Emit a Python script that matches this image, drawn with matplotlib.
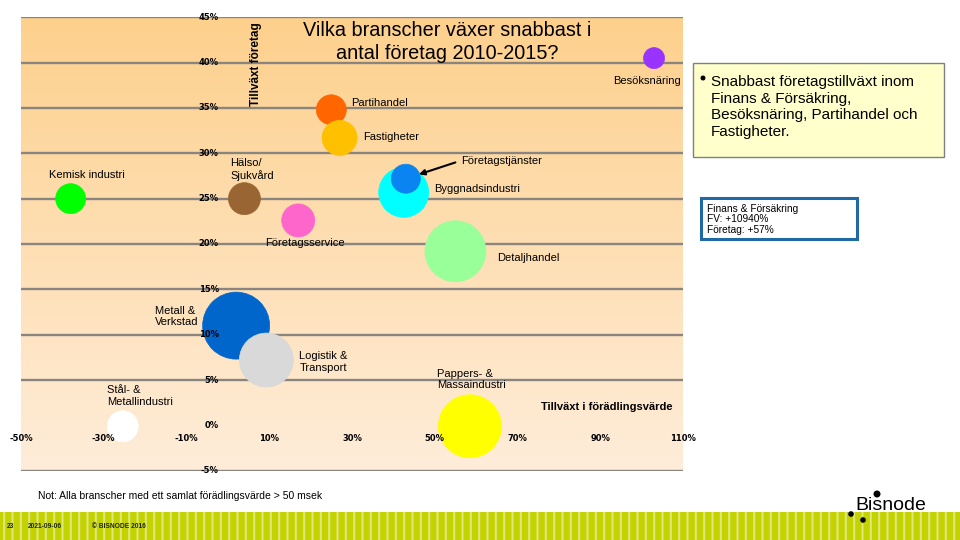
import matplotlib
matplotlib.use("Agg")
import matplotlib.pyplot as plt
from matplotlib.patches import Rectangle, Ellipse
from matplotlib.colors import LinearSegmentedColormap
import numpy as np

plt.rcParams['font.family'] = ['Liberation Sans', 'DejaVu Sans']

# Branscher: tillväxt i förädlingsvärde (x) och tillväxt i antal företag (y), procent
branscher = ["Kemisk industri", "Hälso/\nSjukvård", "Företagsservice", "Partihandel",
             "Fastigheter", "Byggnadsindustri", "Företagstjänster", "Besöksnäring",
             "Detaljhandel", "Metall &\nVerkstad", "Logistik &\nTransport",
             "Stål- &\nMetallindustri", "Pappers- &\nMassaindustri"]
tillvaxt_fv = [-38, 4, 17, 25, 27, 42.5, 43, 103, 55, 2, 9.3, -25.4, 58.5]
tillvaxt_foretag = [25, 25, 22.6, 34.8, 31.7, 25.7, 27.2, 40.5, 19.2, 11, 7.2, -0.1, -0.1]
storlek = [15, 16, 16.5, 15, 17.5, 25, 14.5, 10.5, 30.5, 33.5, 27, 15.5, 31.5]
farger = ["#00FF00", "#996633", "#FF66CC", "#FF6600", "#FFC000", "#00FFFF", "#0A84F0",
          "#9933FF", "#99FF99", "#0066CC", "#D9D9D9", "#FFFFFF", "#FFFF00"]

xticks = [-50, -30, -10, 10, 30, 50, 70, 90, 110]
yticks = [-5, 0, 5, 10, 15, 20, 25, 30, 35, 40, 45]

# label offsets in points (dx, dy) and alignment
etikett_pos = [((11.5, 17.3), "center"), ((-10, 21), "left"), ((-23.8, -16.6), "left"),
               ((14.4, 5), "left"), ((16.6, 0.7), "left"), ((21.6, 2.2), "left"),
               ((39.6, 13), "left"), ((-5, -16.6), "center"), ((30.2, -5), "left"),
               ((-58.3, 6.5), "left"), ((23.8, -1.4), "left"), ((-11.5, 21.6), "left"),
               ((-23.8, 33.8), "left")]

W, H = 960, 540


def fx(x):
    return x / W


def fy(y):
    return 1 - y / H


fig = plt.figure(figsize=(9.6, 5.4), dpi=100)
ax = fig.add_axes([fx(21), fy(470.7), 662 / W, (470.7 - 17.3) / H])
ax.set_xlim(-50, 110)
ax.set_ylim(-5, 45)
for s in ax.spines.values():
    s.set_visible(False)
ax.set_xticks([])
ax.set_yticks([])

# background gradient
cmap = LinearSegmentedColormap.from_list("bg", ["#FFEDDA", "#FDD08C"])
grad = np.linspace(0, 1, 256).reshape(-1, 1)
ax.imshow(grad, extent=[-50, 110, -5, 45], origin="lower", aspect="auto",
          cmap=cmap, zorder=0)

for yv in yticks:
    if yv != 0:
        ax.axhline(yv, color="#8A857F", lw=1.7, zorder=1)
    ax.text(-2.2, yv, f"{yv}%", ha="right", va="center", fontsize=6,
            fontweight="bold", family="DejaVu Sans", zorder=4)
for xv in xticks:
    ax.text(xv, -1.4, f"{xv}%", ha="center", va="center", fontsize=6,
            fontweight="bold", family="DejaVu Sans", zorder=4, clip_on=False)

sizes = [(2 * r * 0.72) ** 2 for r in storlek]
ax.scatter(tillvaxt_fv, tillvaxt_foretag, s=sizes, c=farger, edgecolors=farger,
           linewidths=0.5, zorder=3, clip_on=False)

for namn, x, y, ((dx, dy), ha) in zip(branscher, tillvaxt_fv, tillvaxt_foretag, etikett_pos):
    if namn == "Företagstjänster":
        ax.annotate(namn, xy=(x, y), xytext=(dx, dy), textcoords="offset points",
                    ha=ha, va="center", fontsize=8, zorder=5,
                    arrowprops=dict(arrowstyle="-|>", color="black", lw=1.5,
                                    shrinkA=2, shrinkB=10, relpos=(0, 0.5),
                                    mutation_scale=8))
    else:
        ax.annotate(namn, xy=(x, y), xytext=(dx, dy), textcoords="offset points",
                    ha=ha, va="center", fontsize=8, zorder=5, linespacing=1.2)

# titles and axis names
fig.text(fx(447), fy(42), "Vilka branscher växer snabbast i\nantal företag 2010-2015?",
         ha="center", va="center", multialignment="center", fontsize=14.3,
         linespacing=1.26)
fig.text(fx(256), fy(64), "Tillväxt företag", rotation=90, ha="center", va="center",
         fontsize=8.5, fontweight="bold")
fig.text(fx(607), fy(407), "Tillväxt i förädlingsvärde", ha="center", va="center",
         fontsize=8, fontweight="bold")

# right comment box
fig.patches.append(Rectangle((fx(693), fy(157)), 251 / W, 94 / H, transform=fig.transFigure,
                             facecolor="#FFFFCC", edgecolor="#808080", lw=1))
fig.patches.append(Ellipse((fx(703), fy(78)), 5 / W, 5 / H, transform=fig.transFigure,
                           facecolor="black", edgecolor="none"))
fig.text(fx(711), fy(107), "Snabbast företagstillväxt inom\nFinans & Försäkring,\n"
         "Besöksnäring, Partihandel och\nFastigheter.", ha="left", va="center",
         fontsize=11, linespacing=1.22)

fig.patches.append(Rectangle((fx(701), fy(239)), 156 / W, 41 / H, transform=fig.transFigure,
                             facecolor="white", edgecolor="#1F6AA5", lw=2.2))
fig.text(fx(707), fy(219.5), "Finans & Försäkring\nFV: +10940%\nFöretag: +57%",
         ha="left", va="center", fontsize=7.3, linespacing=1.12)

fig.text(fx(38), fy(496), "Not: Alla branscher med ett samlat förädlingsvärde > 50 msek",
         ha="left", va="center", fontsize=7.5)

# footer band
plt.rcParams['hatch.linewidth'] = 1.5
fig.patches.append(Rectangle((0, 0), 1, 28 / H, transform=fig.transFigure,
                             facecolor="#C4D200", edgecolor="#DDE77A", hatch="||", lw=0))
for x, t in [(7, "23"), (28, "2021-09-06"), (92, "© BISNODE 2016")]:
    fig.text(fx(x), fy(526), t, ha="left", va="center", fontsize=4.8,
             fontweight="bold", color="#1E2A00")

# logo
fig.text(fx(891), fy(505), "Bisnode", ha="center", va="center", fontsize=14)
for (cx, cy, r) in [(877, 494, 3.5), (851, 514, 2.8), (863, 520, 2.8)]:
    fig.patches.append(Ellipse((fx(cx), fy(cy)), 2 * r / W, 2 * r / H,
                               transform=fig.transFigure, facecolor="black",
                               edgecolor="none"))

fig.savefig("out.png", dpi=100)
